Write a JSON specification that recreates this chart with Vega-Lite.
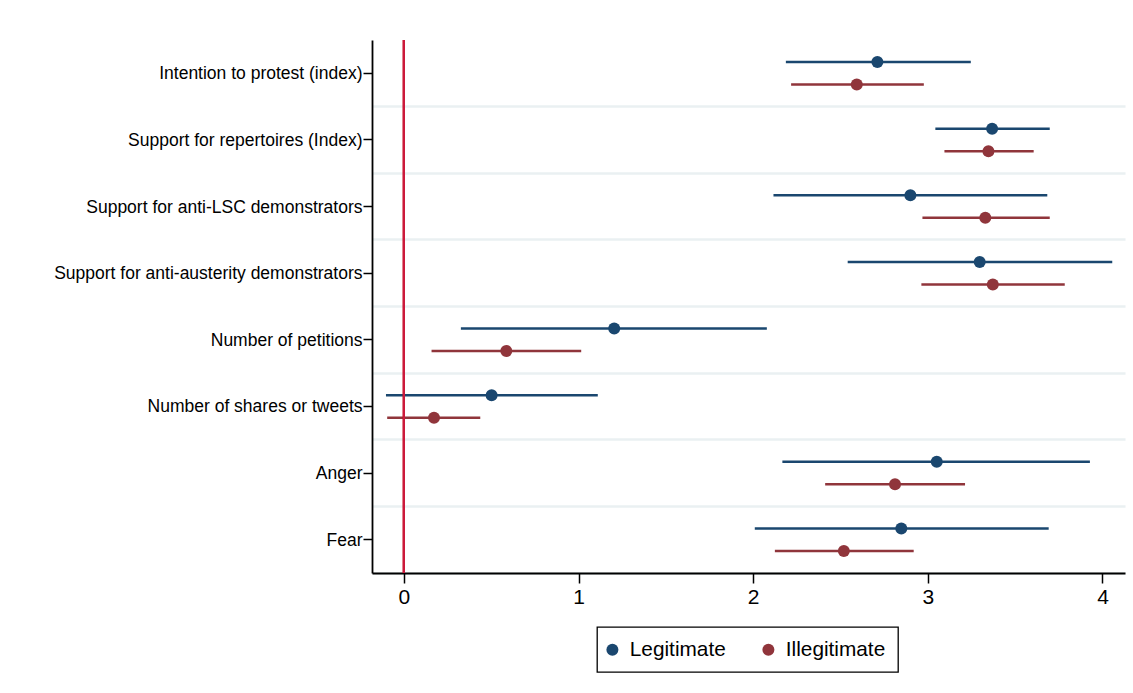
{
  "$schema": "https://vega.github.io/schema/vega-lite/v6.json",
  "autosize": "none",
  "padding": {"left": 372, "top": 40, "right": 8, "bottom": 120},
  "width": 753,
  "height": 533,
  "background": "white",
  "config": {
    "view": {"stroke": null},
    "font": "Liberation Sans",
    "axis": {"labelFont": "Liberation Sans", "labelColor": "#000000"},
    "legend": {
      "title": null, "orient": "none", "direction": "horizontal",
      "legendX": 225, "legendY": 587,
      "strokeColor": "#000000", "strokeWidth": 1.3, "padding": 12,
      "symbolType": "circle", "symbolSize": 144, "symbolStrokeWidth": 0, "symbolOffset": -7,
      "labelFont": "Liberation Sans",
      "labelFontSize": 20.8, "labelColor": "#000000", "labelOffset": 7, "columnPadding": 36,
      "fillColor": "white"
    }
  },
  "data": {
    "values": [
      {"item": "Intention to protest (index)", "group": "Legitimate", "est": 2.711, "lo": 2.187, "hi": 3.246},
      {"item": "Intention to protest (index)", "group": "Illegitimate", "est": 2.593, "lo": 2.217, "hi": 2.977},
      {"item": "Support for repertoires (Index)", "group": "Legitimate", "est": 3.368, "lo": 3.043, "hi": 3.698},
      {"item": "Support for repertoires (Index)", "group": "Illegitimate", "est": 3.347, "lo": 3.095, "hi": 3.606},
      {"item": "Support for anti-LSC demonstrators", "group": "Legitimate", "est": 2.9, "lo": 2.116, "hi": 3.684},
      {"item": "Support for anti-LSC demonstrators", "group": "Illegitimate", "est": 3.329, "lo": 2.969, "hi": 3.698},
      {"item": "Support for anti-austerity demonstrators", "group": "Legitimate", "est": 3.297, "lo": 2.541, "hi": 4.056},
      {"item": "Support for anti-austerity demonstrators", "group": "Illegitimate", "est": 3.372, "lo": 2.963, "hi": 3.784},
      {"item": "Number of petitions", "group": "Legitimate", "est": 1.204, "lo": 0.326, "hi": 2.078},
      {"item": "Number of petitions", "group": "Illegitimate", "est": 0.586, "lo": 0.158, "hi": 1.015},
      {"item": "Number of shares or tweets", "group": "Legitimate", "est": 0.502, "lo": -0.103, "hi": 1.11},
      {"item": "Number of shares or tweets", "group": "Illegitimate", "est": 0.172, "lo": -0.096, "hi": 0.437},
      {"item": "Anger", "group": "Legitimate", "est": 3.051, "lo": 2.167, "hi": 3.928},
      {"item": "Anger", "group": "Illegitimate", "est": 2.812, "lo": 2.412, "hi": 3.213},
      {"item": "Fear", "group": "Legitimate", "est": 2.848, "lo": 2.009, "hi": 3.692},
      {"item": "Fear", "group": "Illegitimate", "est": 2.519, "lo": 2.124, "hi": 2.919}
    ]
  },
  "layer": [
    {
      "mark": {"type": "rule", "strokeWidth": 2.5},
      "encoding": {
        "y": {
          "field": "item", "type": "nominal", "sort": null,
          "scale": {"paddingInner": 0, "paddingOuter": 0},
          "axis": {
            "orient": "right", "title": null, "labels": false, "ticks": false, "domain": false,
            "grid": true, "bandPosition": 1, "gridColor": "#eaf0f2", "gridWidth": 2.5
          }
        },
        "yOffset": {
          "field": "group", "type": "nominal", "sort": ["Legitimate", "Illegitimate"],
          "scale": {"paddingInner": 0, "paddingOuter": 0.487}
        },
        "x": {
          "field": "lo", "type": "quantitative",
          "scale": {"domain": [-0.183, 4.129], "nice": false, "zero": false},
          "axis": {
            "title": null, "values": [0, 1, 2, 3, 4], "grid": false, "domainColor": "#000000",
            "domainWidth": 1.8, "tickColor": "#000000", "tickWidth": 1.5, "tickSize": 10,
            "labelFontSize": 21, "labelPadding": 3, "format": "d"
          }
        },
        "x2": {"field": "hi"},
        "color": {
          "field": "group", "type": "nominal",
          "scale": {"domain": ["Legitimate", "Illegitimate"], "range": ["#1a476f", "#90353b"]}
        }
      }
    },
    {
      "mark": {"type": "point", "filled": true, "opacity": 1, "size": 144, "shape": "circle"},
      "encoding": {
        "y": {
          "field": "item", "type": "nominal", "sort": null,
          "axis": {
            "orient": "left", "title": null, "grid": false, "domainColor": "#000000",
            "domainWidth": 1.8, "tickColor": "#000000", "tickWidth": 1.5, "tickSize": 9,
            "labelFontSize": 17.5, "labelPadding": 1, "labelLimit": 400, "labelOffset": 1
          }
        },
        "yOffset": {"field": "group", "type": "nominal", "sort": ["Legitimate", "Illegitimate"]},
        "x": {"field": "est", "type": "quantitative"},
        "color": {
          "field": "group", "type": "nominal",
          "scale": {"domain": ["Legitimate", "Illegitimate"], "range": ["#1a476f", "#90353b"]}
        }
      }
    },
    {
      "mark": {"type": "rule", "color": "#cc1a3c", "strokeWidth": 2},
      "encoding": {"x": {"datum": 0, "type": "quantitative"}}
    }
  ],
  "resolve": {"axis": {"y": "independent"}}
}
